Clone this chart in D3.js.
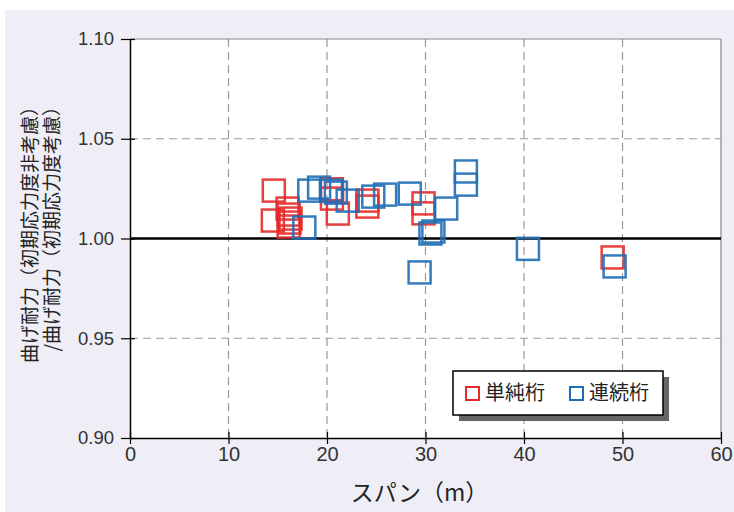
<!DOCTYPE html>
<html><head><meta charset="utf-8">
<script src="https://cdn.jsdelivr.net/npm/d3@7"></script>
<style>
html,body{margin:0;padding:0;background:#fff;}
text{font-family:"Noto Sans CJK JP","Noto Sans",sans-serif;}
</style></head>
<body>
<svg id="chart" width="734" height="512"></svg>
<script>
const xTicks = [0,10,20,30,40,50,60];
const yTicks = [0.90,0.95,1.00,1.05,1.10];
const seriesNames = ["単純桁","連続桁"];
const redSpan = [14.6,14.5,16.0,16.1,16.3,16.2,16.1,20.5,20.5,21.1,24.1,24.1,29.8,29.8,49.0];
const redRatio = [1.024,1.009,1.015,1.012,1.010,1.008,1.006,1.0247,1.020,1.0125,1.019,1.016,1.0176,1.0126,0.9905];
const blueSpan = [17.7,18.2,19.2,20.4,20.9,22.1,24.7,25.9,28.4,29.4,30.5,30.8,32.1,34.1,34.1,40.4,49.2];
const blueRatio = [1.0055,1.024,1.0255,1.024,1.023,1.019,1.021,1.022,1.0225,0.983,1.0025,1.0035,1.015,1.0336,1.027,0.9948,0.986];

const svg = d3.select("#chart");
const L=130,R=721,T=39,B=438;
svg.append("rect").attr("x",5).attr("y",10).attr("width",729).attr("height",502).attr("fill","#efeef7");
svg.append("rect").attr("x",L).attr("y",T).attr("width",R-L).attr("height",B-T).attr("fill","#fff");

const x = d3.scaleLinear().domain([0,60]).range([L,R]);
const y = d3.scaleLinear().domain([0.90,1.10]).range([B,T]);

// grid
const g = svg.append("g");
g.selectAll(".gx").data(xTicks.filter(d=>d>0&&d<60)).enter().append("line")
 .attr("x1",d=>x(d)).attr("x2",d=>x(d)).attr("y1",T).attr("y2",B)
 .attr("stroke","#9a9a9a").attr("stroke-width",1.2).attr("stroke-dasharray","8,5");
g.selectAll(".gy").data([0.95,1.05]).enter().append("line")
 .attr("x1",L).attr("x2",R).attr("y1",d=>y(d)).attr("y2",d=>y(d))
 .attr("stroke","#9a9a9a").attr("stroke-width",1.2).attr("stroke-dasharray","8,5");
// border top/right
svg.append("line").attr("x1",L).attr("x2",R).attr("y1",T).attr("y2",T).attr("stroke","#888").attr("stroke-width",1.2);
svg.append("line").attr("x1",R).attr("x2",R).attr("y1",T).attr("y2",B).attr("stroke","#888").attr("stroke-width",1.2);

// 1.00 line
svg.append("line").attr("x1",L).attr("x2",R).attr("y1",y(1.0)).attr("y2",y(1.0)).attr("stroke","#000").attr("stroke-width",2.5);

// axes
const xAxis = svg.append("g").attr("transform",`translate(0,${B})`)
 .call(d3.axisBottom(x).tickValues(xTicks).tickFormat(d3.format("d")).tickSize(0));
xAxis.select(".domain").attr("stroke","#000").attr("stroke-width",1.5);
xAxis.selectAll(".tick line").attr("y1",-6).attr("y2",6).attr("stroke","#000").attr("stroke-width",1.2);
xAxis.selectAll(".tick text").attr("dy","0.71em").attr("y",9).attr("font-size","20px").attr("fill","#333").style("font-family","'Liberation Sans',sans-serif");

const yAxis = svg.append("g").attr("transform",`translate(${L},0)`)
 .call(d3.axisLeft(y).tickValues(yTicks).tickFormat(d3.format(".2f")).tickSize(0));
yAxis.select(".domain").attr("stroke","#000").attr("stroke-width",1.5);
yAxis.selectAll(".tick line").attr("x1",-9).attr("x2",5).attr("stroke","#000").attr("stroke-width",1.2);
yAxis.selectAll(".tick text").attr("x",-16).attr("font-size","18.5px").attr("fill","#333").style("font-family","'Liberation Sans',sans-serif");

// markers
const S=22;
function drawSeries(xs,ys,color){
  svg.append("g").selectAll("rect").data(xs.map((d,i)=>[d,ys[i]])).enter().append("rect")
   .attr("x",d=>x(d[0])-S/2).attr("y",d=>y(d[1])-S/2).attr("width",S).attr("height",S)
   .attr("fill","none").attr("stroke",color).attr("stroke-width",2.5).attr("stroke-opacity",0.9);
}
drawSeries(redSpan,redRatio,"#e62a2a");
drawSeries(blueSpan,blueRatio,"#1f6eb6");

// axis titles
svg.append("text").attr("x",x(30)-6).attr("y",501).attr("text-anchor","middle")
 .attr("font-size","23px").attr("fill","#222").text("スパン（m）");
const yt = svg.append("g");
yt.append("text").attr("transform","translate(37,97) rotate(-90)").attr("text-anchor","end")
 .attr("font-size","19px").attr("fill","#222").text("曲げ耐力（初期応力度非考慮）");
yt.append("text").attr("transform","translate(59,97) rotate(-90)").attr("text-anchor","end")
 .attr("font-size","19px").attr("fill","#222").text("/曲げ耐力（初期応力度考慮）");

// legend
const lg = svg.append("g");
lg.append("rect").attr("x",459).attr("y",377).attr("width",210).attr("height",44).attr("fill","#666");
lg.append("rect").attr("x",453).attr("y",371).attr("width",210).attr("height",44).attr("fill","#fff").attr("stroke","#000").attr("stroke-width",1.5);
const colors=["#e62a2a","#1f6eb6"];
const lx=[466,570];
seriesNames.forEach((n,i)=>{
  lg.append("rect").attr("x",lx[i]).attr("y",387).attr("width",13).attr("height",13)
   .attr("fill","none").attr("stroke",colors[i]).attr("stroke-width",2);
  lg.append("text").attr("x",lx[i]+19).attr("y",400).attr("font-size","20px").attr("fill","#222").text(n);
});
</script>
</body></html>
